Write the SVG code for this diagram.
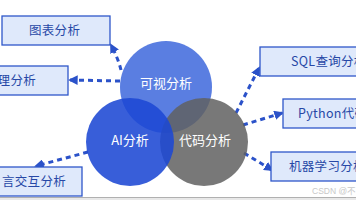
<svg xmlns="http://www.w3.org/2000/svg" width="356" height="200" viewBox="0 0 356 200">
<defs>
<style>
.box{fill:#dfe9fb;stroke:#2f57c9;stroke-width:1.3}
.bt{font-family:"Noto Sans CJK SC","Noto Sans",sans-serif;font-size:12.5px;fill:#2748a6;letter-spacing:0.3px}
.ct{font-family:"Noto Sans CJK SC","Noto Sans",sans-serif;font-size:13px;fill:#ffffff;text-anchor:middle}
.con{fill:none;stroke:#2b52c9;stroke-width:3;stroke-dasharray:5 4;marker-end:url(#ah)}
</style>
<marker id="ah" viewBox="0 0 10 10" refX="8" refY="5" markerWidth="3.2" markerHeight="3.2" orient="auto" markerUnits="strokeWidth">
<path d="M0,0 L10,5 L0,10 z" fill="#2b52c9"/>
</marker>
</defs>
<rect width="356" height="200" fill="#ffffff"/>
<g id="connectors">
<path class="con" d="M121,70 Q118,58 111,45"/>
<path class="con" d="M120,81 L70,80"/>
<path class="con" d="M88,152 L36,166"/>
<path class="con" d="M236,113 L259,68"/>
<path class="con" d="M243,125 L282,113"/>
<path class="con" d="M244,153 L272,170"/>
</g>
<g id="circles">
<g id="n-visual"><circle cx="166" cy="87" r="46" fill="#3d67dc" fill-opacity="0.85"/></g>
<g id="n-code"><circle cx="204" cy="142" r="44" fill="#606060" fill-opacity="0.85"/></g>
<g id="n-ai"><circle cx="130" cy="142" r="44" fill="#1c48d4" fill-opacity="0.88"/></g>
<text class="ct" x="166" y="88">可视分析</text>
<text class="ct" x="130" y="145">AI分析</text>
<text class="ct" x="205" y="145">代码分析</text>
</g>
<g id="n-chart"><rect class="box" x="2" y="16" width="108" height="29"/><text class="bt" x="29" y="35">图表分析</text></g>
<g id="n-proc"><rect class="box" x="-20" y="66" width="88" height="29"/><text class="bt" x="36" y="85" text-anchor="end">理分析</text></g>
<g id="n-lang"><rect class="box" x="-20" y="167" width="102" height="29"/><text class="bt" x="66" y="186" text-anchor="end">言交互分析</text></g>
<g id="n-sql"><rect class="box" x="260" y="47" width="110" height="29"/><text class="bt" x="291" y="66">SQL查询分析</text></g>
<g id="n-py"><rect class="box" x="283" y="99" width="90" height="29"/><text class="bt" x="298" y="118">Python代码分析</text></g>
<g id="n-ml"><rect class="box" x="271" y="152" width="100" height="29"/><text class="bt" x="289" y="171">机器学习分析</text></g>
<rect x="0" y="197" width="356" height="3" fill="#e8e8e8"/>
<line x1="0" y1="197.5" x2="356" y2="197.5" stroke="#b0b0b0" stroke-width="1"/>
<text x="312" y="194" font-family="Liberation Sans,'Noto Sans CJK SC',sans-serif" font-size="8.5" fill="#c8c8c8">CSDN @不</text>
</svg>
